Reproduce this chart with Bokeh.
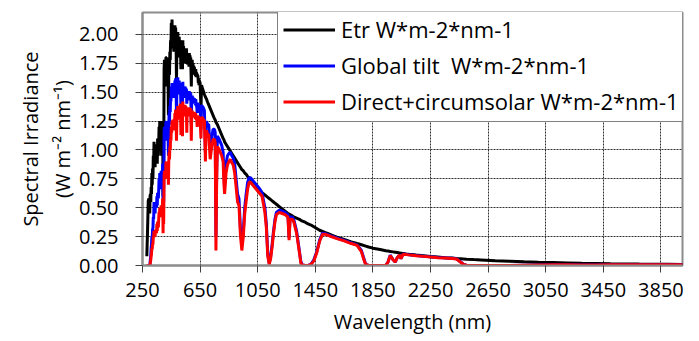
from bokeh.plotting import figure
from bokeh.models import (Range1d, FixedTicker, NumeralTickFormatter, Legend,
                          LegendItem, Title, ColumnDataSource)
from bokeh.embed import file_html
from bokeh.resources import INLINE

# ---- data ----
wavelength = [
    280, 285, 290, 295, 300, 302.5, 305, 307.5, 310, 312.5, 315, 317.5, 320, 322.5, 325,
    327.5, 330, 332.5, 335, 337.5, 340, 342.5, 345, 347.5, 350, 352.5, 355, 357.5, 360, 362.5,
    365, 367.5, 370, 372.5, 375, 377.5, 380, 382.5, 385, 387.5, 390, 393, 395, 397, 400,
    402.5, 405, 407.5, 410, 412.5, 415, 417.5, 420, 422.5, 425, 427.5, 430, 432.5, 435, 437.5,
    440, 442.5, 445, 447.5, 450, 452.5, 455, 457.5, 460, 462.5, 465, 467.5, 470, 472.5, 475,
    477.5, 480, 483, 486, 490, 492.5, 495, 497.5, 500, 502.5, 505, 507.5, 510, 513, 517,
    520, 522.5, 525, 527.5, 530, 532.5, 535, 537.5, 540, 542.5, 545, 547.5, 550, 552.5, 555,
    557.5, 560, 562.5, 565, 567.5, 570, 572.5, 575, 577.5, 580, 582.5, 585, 589, 592, 595,
    597.5, 600, 602.5, 605, 607.5, 610, 612.5, 615, 617.5, 620, 622.5, 625, 630, 635, 637.5,
    640, 642.5, 645, 650, 656, 660, 665, 670, 675, 680, 687, 690, 695, 700, 710,
    720, 730, 740, 750, 755, 760, 765, 770, 780, 790, 800, 810, 815, 820, 825,
    830, 840, 850, 860, 870, 880, 890, 900, 910, 920, 930, 940, 950, 960, 970,
    980, 990, 1000, 1020, 1040, 1060, 1080, 1100, 1110, 1120, 1130, 1140, 1150, 1160, 1170,
    1180, 1200, 1220, 1240, 1260, 1268, 1275, 1290, 1300, 1320, 1340, 1350, 1360, 1380, 1400,
    1420, 1440, 1460, 1480, 1500, 1520, 1540, 1560, 1580, 1600, 1650, 1700, 1740, 1770, 1790,
    1800, 1820, 1850, 1900, 1940, 1955, 1970, 1990, 2005, 2020, 2035, 2045, 2060, 2080, 2100,
    2150, 2200, 2250, 2300, 2350, 2400, 2430, 2460, 2480, 2500, 2550, 2600, 2700, 2800, 2900,
    3000, 3100, 3200, 3300, 3400, 3500, 3600, 3700, 3800, 3900, 4000,
]

etr = [
    0.08, 0.30, 0.56, 0.58, 0.45, 0.60, 0.62, 0.55, 0.68, 0.62, 0.80, 0.70, 0.84, 0.75, 0.95,
    0.88, 1.07, 0.95, 1.00, 0.85, 1.05, 0.92, 0.98, 0.90, 1.05, 0.88, 1.10, 1.00, 0.95, 1.05,
    1.20, 1.10, 1.25, 1.05, 1.08, 1.15, 1.20, 0.95, 1.00, 1.10, 1.25, 0.60, 1.20, 0.75, 1.70,
    1.78, 1.65, 1.72, 1.55, 1.80, 1.80, 1.65, 1.78, 1.55, 1.70, 1.60, 1.30, 1.68, 1.80, 1.65,
    1.85, 1.78, 1.95, 1.88, 2.10, 1.95, 2.13, 1.98, 2.05, 1.92, 2.00, 1.85, 2.05, 1.92, 2.08,
    1.95, 2.06, 1.95, 1.60, 2.00, 1.85, 2.02, 1.88, 1.95, 1.80, 1.98, 1.85, 1.95, 1.90, 1.70,
    1.85, 1.75, 1.88, 1.70, 1.95, 1.82, 1.90, 1.78, 1.85, 1.75, 1.88, 1.80, 1.87, 1.78, 1.88,
    1.78, 1.80, 1.74, 1.82, 1.74, 1.80, 1.72, 1.84, 1.76, 1.82, 1.74, 1.80, 1.55, 1.76, 1.78,
    1.70, 1.75, 1.68, 1.73, 1.66, 1.72, 1.65, 1.70, 1.64, 1.70, 1.63, 1.67, 1.65, 1.64, 1.58,
    1.62, 1.56, 1.60, 1.58, 1.35, 1.56, 1.54, 1.52, 1.50, 1.48, 1.46, 1.45, 1.44, 1.42, 1.39,
    1.36, 1.33, 1.30, 1.27, 1.26, 1.24, 1.23, 1.22, 1.19, 1.16, 1.13, 1.10, 1.09, 1.07, 1.06,
    1.05, 1.03, 1.01, 0.99, 0.97, 0.95, 0.93, 0.91, 0.89, 0.87, 0.85, 0.83, 0.82, 0.80, 0.79,
    0.77, 0.76, 0.75, 0.72, 0.69, 0.66, 0.63, 0.61, 0.60, 0.59, 0.58, 0.57, 0.56, 0.55, 0.54,
    0.53, 0.51, 0.49, 0.47, 0.45, 0.445, 0.44, 0.43, 0.42, 0.41, 0.40, 0.39, 0.385, 0.375, 0.36,
    0.35, 0.335, 0.32, 0.305, 0.295, 0.285, 0.275, 0.265, 0.255, 0.245, 0.225, 0.205, 0.19, 0.18, 0.172,
    0.168, 0.16, 0.15, 0.138, 0.128, 0.125, 0.122, 0.118, 0.115, 0.112, 0.109, 0.107, 0.104, 0.100, 0.097,
    0.090, 0.084, 0.078, 0.073, 0.068, 0.064, 0.061, 0.059, 0.057, 0.055, 0.051, 0.048, 0.042, 0.037, 0.032,
    0.028, 0.025, 0.022, 0.019, 0.017, 0.015, 0.014, 0.012, 0.011, 0.010, 0.009,
]

global_tilt = [
    0.0, 0.0, 0.0, 0.0001, 0.005, 0.02, 0.06, 0.09, 0.15, 0.18, 0.25, 0.24, 0.32, 0.32, 0.42,
    0.40, 0.55, 0.50, 0.50, 0.45, 0.55, 0.50, 0.52, 0.50, 0.60, 0.52, 0.63, 0.60, 0.58, 0.65,
    0.75, 0.70, 0.80, 0.70, 0.72, 0.78, 0.82, 0.66, 0.70, 0.78, 0.88, 0.45, 0.85, 0.55, 1.15,
    1.20, 1.12, 1.18, 1.08, 1.24, 1.25, 1.16, 1.25, 1.10, 1.22, 1.15, 0.95, 1.22, 1.32, 1.22,
    1.38, 1.33, 1.45, 1.42, 1.55, 1.48, 1.58, 1.50, 1.58, 1.48, 1.53, 1.45, 1.56, 1.50, 1.60,
    1.52, 1.62, 1.55, 1.30, 1.60, 1.50, 1.63, 1.52, 1.58, 1.48, 1.60, 1.52, 1.58, 1.56, 1.38,
    1.52, 1.45, 1.55, 1.35, 1.59, 1.50, 1.55, 1.47, 1.52, 1.45, 1.55, 1.48, 1.54, 1.47, 1.53,
    1.40, 1.48, 1.44, 1.50, 1.44, 1.49, 1.43, 1.51, 1.45, 1.50, 1.44, 1.49, 1.22, 1.45, 1.47,
    1.42, 1.46, 1.41, 1.45, 1.40, 1.45, 1.40, 1.44, 1.39, 1.44, 1.38, 1.40, 1.32, 1.41, 1.37,
    1.40, 1.36, 1.38, 1.37, 1.18, 1.38, 1.38, 1.37, 1.36, 1.34, 0.98, 1.20, 1.25, 1.22, 1.22,
    1.00, 1.10, 1.18, 1.18, 1.15, 0.25, 0.80, 1.12, 1.10, 1.07, 1.04, 0.98, 0.80, 0.70, 0.78,
    0.88, 0.95, 0.97, 0.98, 0.95, 0.93, 0.88, 0.75, 0.62, 0.58, 0.32, 0.18, 0.30, 0.50, 0.62,
    0.72, 0.76, 0.76, 0.73, 0.70, 0.67, 0.63, 0.50, 0.36, 0.10, 0.02, 0.08, 0.18, 0.30, 0.40,
    0.46, 0.48, 0.47, 0.46, 0.44, 0.24, 0.42, 0.42, 0.40, 0.30, 0.12, 0.03, 0.005, 0.0, 0.0,
    0.01, 0.05, 0.12, 0.22, 0.28, 0.275, 0.265, 0.255, 0.247, 0.238, 0.218, 0.195, 0.178, 0.13, 0.05,
    0.01, 0.0, 0.0, 0.0, 0.002, 0.03, 0.09, 0.05, 0.03, 0.07, 0.09, 0.06, 0.10, 0.097, 0.094,
    0.087, 0.081, 0.075, 0.070, 0.066, 0.062, 0.058, 0.030, 0.010, 0.003, 0.0, 0.0, 0.0, 0.001, 0.003,
    0.005, 0.007, 0.006, 0.004, 0.005, 0.006, 0.006, 0.006, 0.007, 0.007, 0.007,
]

direct_circumsolar = [
    0.0, 0.0, 0.0, 0.0, 0.001, 0.01, 0.03, 0.05, 0.08, 0.10, 0.15, 0.14, 0.19, 0.18, 0.25,
    0.24, 0.30, 0.28, 0.27, 0.25, 0.31, 0.28, 0.29, 0.28, 0.36, 0.30, 0.38, 0.35, 0.33, 0.40,
    0.46, 0.43, 0.50, 0.43, 0.44, 0.48, 0.52, 0.42, 0.45, 0.50, 0.58, 0.28, 0.56, 0.36, 0.78,
    0.82, 0.78, 0.82, 0.75, 0.88, 0.90, 0.84, 0.90, 0.80, 0.88, 0.84, 0.70, 0.90, 0.98, 0.92,
    1.03, 1.00, 1.10, 1.08, 1.20, 1.15, 1.25, 1.20, 1.26, 1.19, 1.23, 1.17, 1.27, 1.22, 1.32,
    1.26, 1.35, 1.29, 1.08, 1.33, 1.26, 1.38, 1.30, 1.35, 1.27, 1.37, 1.31, 1.38, 1.40, 1.13,
    1.33, 1.28, 1.38, 1.12, 1.42, 1.33, 1.38, 1.31, 1.36, 1.29, 1.39, 1.33, 1.38, 1.30, 1.37,
    1.15, 1.33, 1.29, 1.35, 1.30, 1.35, 1.29, 1.37, 1.31, 1.36, 1.30, 1.36, 1.08, 1.32, 1.34,
    1.29, 1.33, 1.29, 1.33, 1.28, 1.33, 1.28, 1.32, 1.27, 1.32, 1.26, 1.29, 1.20, 1.30, 1.26,
    1.29, 1.25, 1.28, 1.27, 1.10, 1.28, 1.28, 1.27, 1.26, 1.25, 0.90, 1.12, 1.17, 1.14, 1.13,
    0.92, 1.02, 1.09, 1.09, 1.06, 0.13, 0.72, 1.03, 1.01, 0.98, 0.95, 0.90, 0.72, 0.62, 0.70,
    0.80, 0.87, 0.90, 0.92, 0.89, 0.87, 0.80, 0.68, 0.55, 0.52, 0.26, 0.13, 0.25, 0.45, 0.56,
    0.66, 0.72, 0.72, 0.69, 0.66, 0.63, 0.60, 0.46, 0.33, 0.08, 0.01, 0.06, 0.16, 0.28, 0.38,
    0.44, 0.46, 0.45, 0.44, 0.42, 0.22, 0.40, 0.40, 0.38, 0.28, 0.11, 0.02, 0.004, 0.0, 0.0,
    0.01, 0.04, 0.11, 0.21, 0.27, 0.27, 0.26, 0.25, 0.242, 0.233, 0.213, 0.19, 0.174, 0.12, 0.04,
    0.01, 0.0, 0.0, 0.0, 0.002, 0.03, 0.085, 0.05, 0.03, 0.07, 0.09, 0.06, 0.098, 0.095, 0.092,
    0.085, 0.079, 0.073, 0.068, 0.064, 0.060, 0.056, 0.028, 0.009, 0.002, 0.0, 0.0, 0.0, 0.001, 0.003,
    0.005, 0.007, 0.006, 0.004, 0.005, 0.006, 0.006, 0.006, 0.007, 0.007, 0.007,
]

x_ticks = [250, 650, 1050, 1450, 1850, 2250, 2650, 3050, 3450, 3850]
y_ticks = [0.0, 0.25, 0.5, 0.75, 1.0, 1.25, 1.5, 1.75, 2.0]
series_names = ["Etr W*m-2*nm-1", "Global tilt  W*m-2*nm-1",
                "Direct+circumsolar W*m-2*nm-1"]
x_title = "Wavelength (nm)"
y_title = "Spectral Irradiance\n(W m\u207b\u00b2 nm\u207b\u00b9)"

assert len(wavelength) == len(etr) == len(global_tilt) == len(direct_circumsolar)

FONT = "Open Sans"
FS = "20px"

src = ColumnDataSource(dict(wl=wavelength, etr=etr, glob=global_tilt,
                            dirc=direct_circumsolar))

p = figure(width=699, height=341, output_backend="svg", toolbar_location=None,
           x_range=Range1d(250, 4000), y_range=Range1d(0, 2.19),
           min_border_left=142, min_border_right=17, min_border_top=12,
           min_border_bottom=76)
p.background_fill_color = "white"
p.border_fill_color = "white"
p.outline_line_color = "#8c8c8c"
p.outline_line_width = 2

r1 = p.line("wl", "etr", source=src, line_color="#000000", line_width=3)
r2 = p.line("wl", "glob", source=src, line_color="#0000FF", line_width=3)
r3 = p.line("wl", "dirc", source=src, line_color="#FF0000", line_width=3)

for ax in (p.xaxis[0], p.yaxis[0]):
    ax.axis_line_color = "#8c8c8c"
    ax.axis_line_width = 2
    ax.major_tick_line_color = "#404040"
    ax.major_tick_out = 7
    ax.major_tick_in = 0
    ax.minor_tick_line_color = None
    ax.major_label_text_font = FONT
    ax.major_label_text_font_size = FS
    ax.major_label_text_color = "#000000"
    ax.axis_label_text_font = FONT
    ax.axis_label_text_font_size = FS
    ax.axis_label_text_font_style = "normal"
    ax.axis_label_text_color = "#000000"

p.xaxis.ticker = FixedTicker(ticks=x_ticks)
p.yaxis.ticker = FixedTicker(ticks=y_ticks)
p.yaxis.formatter = NumeralTickFormatter(format="0.00")
p.xaxis.major_label_standoff = 10
p.yaxis.major_label_standoff = 17
p.yaxis.axis_label = y_title
p.yaxis.axis_label_standoff = 0

p.xgrid.grid_line_color = "#303030"
p.ygrid.grid_line_color = "#303030"
p.xgrid.grid_line_dash = "2 1"
p.ygrid.grid_line_dash = "2 1"
p.xgrid.grid_line_width = 1
p.ygrid.grid_line_width = 1

p.add_layout(Title(text=x_title, align="center", offset=14,
                   text_font=FONT, text_font_size=FS,
                   text_font_style="normal", text_color="#000000",
                   standoff=12), "below")

legend = Legend(items=[LegendItem(label=series_names[0], renderers=[r1]),
                       LegendItem(label=series_names[1], renderers=[r2]),
                       LegendItem(label=series_names[2], renderers=[r3])],
                location=(135, 143))
legend.label_text_font = FONT
legend.label_text_font_size = "22px"
legend.label_text_color = "#000000"
legend.border_line_color = "#000000"
legend.border_line_width = 1
legend.background_fill_color = "white"
legend.background_fill_alpha = 1
legend.glyph_width = 52
legend.glyph_height = 29
legend.label_height = 29
legend.label_standoff = 6
legend.spacing = 6
legend.padding = 5
legend.margin = 0
p.add_layout(legend, "center")

open("out.html", "w").write(file_html(p, INLINE))
